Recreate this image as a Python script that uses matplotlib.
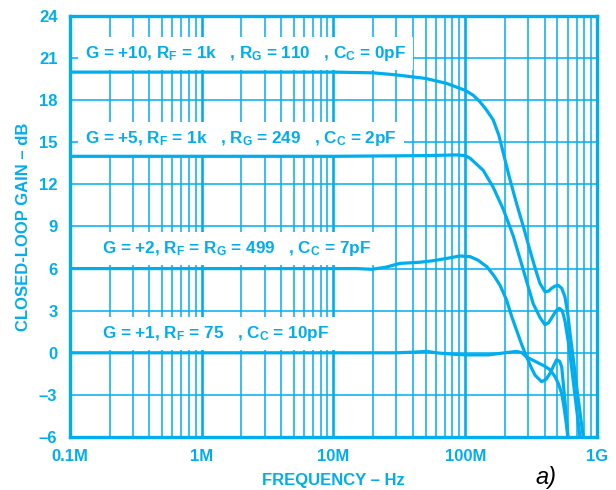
import numpy as np
import matplotlib
matplotlib.use("Agg")
import matplotlib.pyplot as plt
from matplotlib.ticker import FixedLocator, NullFormatter

# frequencies in MHz, gain in dB
f_g10 = [0.1, 1, 10, 20, 30, 50, 72, 100, 115, 129, 145, 163, 180, 195, 215,
         245, 276, 310, 340, 369, 403, 430, 453, 480, 508, 540, 571, 600,
         624, 665, 705, 787]
db_g10 = [20.0, 20.0, 20.0, 19.95, 19.8, 19.55, 19.2, 18.7, 18.35, 17.9, 17.3,
          16.6, 15.5, 14.2, 12.6, 10.65, 9.0, 7.3, 6.0, 4.95, 4.35, 4.4,
          4.6, 4.75, 4.8, 4.6, 4.0, 2.8, 1.4, -0.6, -2.6, -6.0]

f_g5 = [0.1, 1, 10, 50, 86, 100, 109, 120, 137, 163, 195, 232, 276, 328, 370,
        403, 430, 461, 490, 518, 545, 571, 610, 645, 743]
db_g5 = [14.0, 14.0, 14.0, 14.05, 14.1, 14.05, 13.86, 13.5, 13.0, 11.8, 10.2,
         8.3, 5.9, 3.5, 2.5, 2.0, 2.15, 2.6, 3.0, 3.17, 3.0, 2.3, 0.6, -1.2, -6.0]

f_g2 = [0.1, 1, 10, 15, 19.5, 25, 32, 45, 57, 75, 91, 109, 125, 146, 165, 184,
        206, 225, 245, 268, 292, 315, 339, 380, 410, 440, 470, 494, 520, 540,
        571, 603]
db_g2 = [6.0, 6.0, 6.0, 6.0, 5.95, 6.1, 6.37, 6.45, 6.56, 6.75, 6.9, 6.85, 6.6,
         6.13, 5.5, 4.8, 3.76, 2.6, 1.62, 0.6, -0.28, -1.0, -1.6, -2.06, -1.9,
         -1.47, -0.9, -0.5, -0.6, -1.0, -3.4, -6.0]

f_g1 = [0.1, 1, 10, 30, 42, 51, 60, 80, 100, 150, 200, 245, 270, 292, 330, 367,
        400, 440, 480, 510, 540, 565, 590, 600]
db_g1 = [0.0, 0.0, 0.0, 0.0, 0.05, 0.1, 0.0, -0.1, -0.15, -0.15, 0.0, 0.1, 0.0,
         -0.3, -0.55, -0.77, -0.95, -1.2, -1.7, -2.2, -2.9, -4.0, -5.3, -6.0]

labels = [
    r"G = +10, R$_\mathregular{F}$ = 1k   , R$_\mathregular{G}$ = 110   , C$_\mathregular{C}$ = 0pF",
    r"G = +5, R$_\mathregular{F}$ = 1k   , R$_\mathregular{G}$ = 249   , C$_\mathregular{C}$ = 2pF",
    r"G = +2, R$_\mathregular{F}$ = R$_\mathregular{G}$ = 499   , C$_\mathregular{C}$ = 7pF",
    r"G = +1, R$_\mathregular{F}$ = 75   , C$_\mathregular{C}$ = 10pF",
]
label_pos = [(0.13, 21.35), (0.13, 15.3), (0.175, 7.45), (0.175, 1.4)]

xticks = [0.1, 1, 10, 100, 1000]
xticklabels = ["0.1M", "1M", "10M", "100M", "1G"]
yticks = [-6, -3, 0, 3, 6, 9, 12, 15, 18, 21, 24]

blue = "#00AEEF"
plt.rcParams["font.family"] = ["Liberation Sans", "DejaVu Sans"]
plt.rcParams["font.weight"] = "bold"
plt.rcParams["mathtext.default"] = "regular"

fig = plt.figure(figsize=(6.16, 4.90), dpi=100)
ax = fig.add_axes([0.1136, 0.1082, 0.8555, 0.8592])
ax.set_xscale("log")
ax.set_xlim(0.1, 1000)
ax.set_ylim(-6, 24)

# grid
minor = [m * 10.0 ** d for d in range(-1, 3) for m in range(2, 10)]
for x in minor:
    ax.axvline(x, color=blue, lw=1.1, zorder=1)
for x in xticks:
    ax.axvline(x, color=blue, lw=1.9, zorder=1)
for y in yticks:
    ax.axhline(y, color=blue, lw=1.1, zorder=1)

for f, g in [(f_g10, db_g10), (f_g5, db_g5), (f_g2, db_g2), (f_g1, db_g1)]:
    ax.plot(f, g, color=blue, lw=2.3, zorder=3, solid_joinstyle="round",
            solid_capstyle="round")

for (x, y), s in zip(label_pos, labels):
    ax.text(x, y, s, color=blue, fontsize=12.3, fontweight="bold", va="center",
            ha="left", zorder=2,
            bbox=dict(facecolor="white", edgecolor="none", pad=5))

ax.xaxis.set_major_locator(FixedLocator(xticks))
ax.xaxis.set_minor_formatter(NullFormatter())
ax.set_xticks(xticks)
ax.set_xticklabels(xticklabels)
ax.set_yticks(yticks)
ax.set_yticklabels([str(v).replace("-", "\u2013") for v in yticks])
ax.tick_params(axis="both", which="both", length=0, colors=blue, labelsize=12, pad=9)
ax.minorticks_off()
for lab in ax.get_xticklabels() + ax.get_yticklabels():
    lab.set_fontweight("bold")
for sp in ax.spines.values():
    sp.set_color(blue)
    sp.set_linewidth(2.4)
    sp.set_zorder(4)

ax.set_xlabel("FREQUENCY \u2013 Hz", color=blue, fontsize=12, fontweight="bold", labelpad=6)
ax.set_ylabel("CLOSED-LOOP GAIN \u2013 dB", color=blue, fontsize=12, fontweight="bold", labelpad=6)

fig.text(0.87, 0.012, "a)", fontsize=17, style="italic", fontweight="normal", color="black")

fig.savefig("out.png", dpi=100)
